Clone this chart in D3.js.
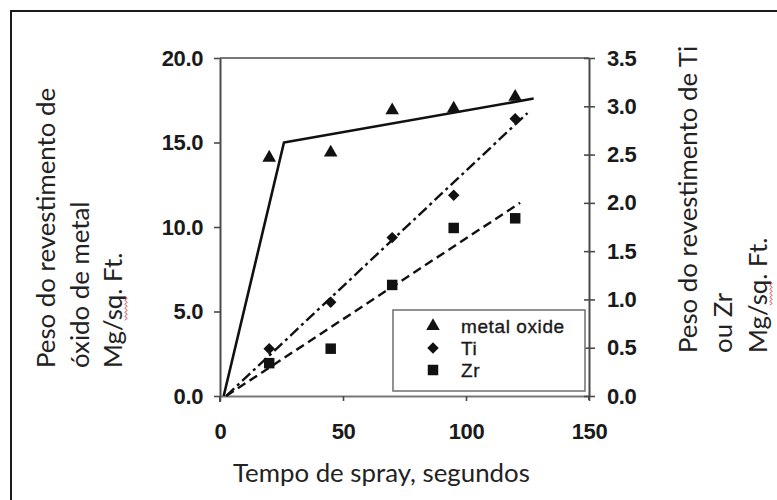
<!DOCTYPE html>
<html>
<head>
<meta charset="utf-8">
<script src="https://cdn.jsdelivr.net/npm/d3@7"></script>
<style>
  html, body { margin: 0; padding: 0; background: #fff; }
  svg { display: block; }
</style>
</head>
<body>
<svg id="chart" width="777" height="500"></svg>
<script>
// ---------------- data ----------------
const timeSeconds = [20, 45, 70, 95, 120];
const metalOxide = [14.1, 14.4, 16.9, 17.0, 17.7];   // left axis
const tiWeight = [0.49, 0.97, 1.64, 2.08, 2.87];     // right axis
const zrWeight = [0.34, 0.49, 1.15, 1.74, 1.84];     // right axis

const metalOxideFitX = [1.5, 26, 127.5];
const metalOxideFitY = [0, 15.0, 17.6];
const tiFitX = [2.5, 125];
const tiFitY = [0, 2.93];
const zrFitX = [2.5, 122];
const zrFitY = [0, 2.0];

const xTicks = [0, 50, 100, 150];
const leftTicks = [0, 5, 10, 15, 20];
const rightTicks = [0, 0.5, 1.0, 1.5, 2.0, 2.5, 3.0, 3.5];

const legendLabels = ["metal oxide", "Ti", "Zr"];
const xTitle = "Tempo de spray, segundos";
const leftTitle = ["Peso do revestimento de", "óxido de metal", ["Mg/", "sq", ". Ft."]];
const rightTitle = ["Peso do revestimento de Ti", "ou Zr", ["Mg/", "sq", ". Ft."]];

// ---------------- layout ----------------
const svg = d3.select("#chart");
const plot = { left: 220, right: 589, top: 58, bottom: 396 };

const x = d3.scaleLinear().domain([0, 150]).range([plot.left, plot.right]);
const yL = d3.scaleLinear().domain([0, 20]).range([plot.bottom, plot.top]);
const yR = d3.scaleLinear().domain([0, 3.5]).range([plot.bottom, plot.top]);

const tickFont = "'Liberation Sans', Arial, sans-serif";
const titleFont = "Lato, 'Open Sans', sans-serif";
const axisColor = "#4a4a4a";

// outer frame
svg.append("rect")
  .attr("x", 11).attr("y", 11).attr("width", 820).attr("height", 600)
  .attr("fill", "none").attr("stroke", "#1a1a1a").attr("stroke-width", 2);

// top frame line
svg.append("line")
  .attr("x1", x(0)).attr("x2", x(150)).attr("y1", yL(20)).attr("y2", yL(20))
  .attr("stroke", "#777").attr("stroke-width", 2);

// left axis
const gL = svg.append("g").attr("transform", `translate(${plot.left},0)`)
  .call(d3.axisLeft(yL).tickValues(leftTicks).tickFormat(d3.format(".1f"))
    .tickSize(6).tickSizeOuter(0).tickPadding(11));
// bottom axis
const gB = svg.append("g").attr("transform", `translate(0,${plot.bottom})`)
  .call(d3.axisBottom(x).tickValues(xTicks).tickFormat(d3.format("d"))
    .tickSize(5).tickSizeOuter(0).tickPadding(22));
// right axis
const gR = svg.append("g").attr("transform", `translate(${plot.right},0)`)
  .call(d3.axisRight(yR).tickValues(rightTicks).tickFormat(d3.format(".1f"))
    .tickSize(6).tickSizeOuter(0).tickPadding(12));
gR.selectAll(".tick line").attr("x1", -5);

[gL, gB, gR].forEach(g => {
  g.select(".domain").attr("stroke", axisColor).attr("stroke-width", 2);
  g.selectAll(".tick line").attr("stroke", axisColor).attr("stroke-width", 1.6);
  g.selectAll(".tick text")
    .attr("font-family", tickFont).attr("font-size", 22).attr("font-weight", "bold")
    .attr("letter-spacing", -0.4)
    .attr("fill", "#1a1a1a");
});
gB.select(".domain").attr("stroke", "#777");
// extend left and right axis lines slightly below the baseline
svg.append("line").attr("x1", plot.left).attr("x2", plot.left)
  .attr("y1", plot.bottom).attr("y2", plot.bottom + 6)
  .attr("stroke", axisColor).attr("stroke-width", 2);
svg.append("line").attr("x1", plot.right).attr("x2", plot.right)
  .attr("y1", plot.bottom).attr("y2", plot.bottom + 4)
  .attr("stroke", axisColor).attr("stroke-width", 2);

// ---------------- fit lines ----------------
const lineL = d3.line().x(d => x(d[0])).y(d => yL(d[1]));
const lineR = d3.line().x(d => x(d[0])).y(d => yR(d[1]));

svg.append("path")
  .attr("d", lineL(d3.zip(metalOxideFitX, metalOxideFitY)))
  .attr("fill", "none").attr("stroke", "#111").attr("stroke-width", 2.6)
  .attr("stroke-linejoin", "round");
svg.append("path")
  .attr("d", lineR(d3.zip(tiFitX, tiFitY)))
  .attr("fill", "none").attr("stroke", "#111").attr("stroke-width", 2.4)
  .attr("stroke-dasharray", "11,4,3,4");
svg.append("path")
  .attr("d", lineR(d3.zip(zrFitX, zrFitY)))
  .attr("fill", "none").attr("stroke", "#111").attr("stroke-width", 2.4)
  .attr("stroke-dasharray", "9,5");

// ---------------- markers ----------------
const triSym = d3.symbol().type(d3.symbolTriangle).size(80);
const diaSym = d3.symbol().type(d3.symbolSquare).size(66);   // drawn rotated 45°
const sqSym = d3.symbol().type(d3.symbolSquare).size(110);

svg.append("g").selectAll("path").data(d3.zip(timeSeconds, metalOxide)).join("path")
  .attr("d", triSym).attr("fill", "#111")
  .attr("transform", d => `translate(${x(d[0])},${yL(d[1])})`);
svg.append("g").selectAll("path").data(d3.zip(timeSeconds, tiWeight)).join("path")
  .attr("d", diaSym).attr("fill", "#111")
  .attr("transform", d => `translate(${x(d[0])},${yR(d[1])}) rotate(45)`);
svg.append("g").selectAll("path").data(d3.zip(timeSeconds, zrWeight)).join("path")
  .attr("d", sqSym).attr("fill", "#111")
  .attr("transform", d => `translate(${x(d[0])},${yR(d[1])})`);

// ---------------- legend ----------------
const leg = svg.append("g");
leg.append("rect")
  .attr("x", 393).attr("y", 310).attr("width", 192).attr("height", 81)
  .attr("fill", "#fff").attr("stroke", "#777").attr("stroke-width", 1.6);
const legSyms = [triSym, diaSym, sqSym];
const legRot = [0, 45, 0];
const legY = [326, 348, 370];
legendLabels.forEach((lab, i) => {
  leg.append("path").attr("d", legSyms[i]).attr("fill", "#111")
    .attr("transform", `translate(433,${legY[i]}) rotate(${legRot[i]})`);
  leg.append("text").attr("x", 461).attr("y", legY[i]).attr("dy", "0.36em")
    .attr("font-family", tickFont).attr("font-size", 19)
    .attr("letter-spacing", 0.6)
    .attr("stroke", "#1a1a1a").attr("stroke-width", 0.35)
    .attr("fill", "#1a1a1a").text(lab);
});

// ---------------- titles ----------------
// size the title font so the x title spans its width in the reference
const probe = svg.append("text").attr("font-family", titleFont).attr("font-size", 20).text(xTitle);
const probeLen = probe.node().getComputedTextLength();
probe.remove();
const titleSize = 20 * 297 / probeLen;

svg.append("text").attr("x", 233).attr("y", 482)
  .attr("font-family", titleFont).attr("font-size", titleSize).attr("fill", "#222")
  .text(xTitle);

function rotatedTitle(lines, baselines, startY) {
  lines.forEach((ln, i) => {
    const t = svg.append("text")
      .attr("transform", `translate(${baselines[i]},${startY}) rotate(-90)`)
      .attr("font-family", titleFont).attr("font-size", titleSize).attr("fill", "#222");
    if (Array.isArray(ln)) {
      t.append("tspan").text(ln[0]);
      t.append("tspan").text(ln[1]);
      t.append("tspan").text(ln[2]);
      // red wavy spell-check underline beneath "sq"
      const n0 = ln[0].length;
      const node = t.node();
      const sx = node.getStartPositionOfChar(n0).x;
      const ex = node.getEndPositionOfChar(n0 + ln[1].length - 1).x;
      const pts = [];
      for (let px = sx, k = 0; px <= ex; px += 2, k++) pts.push([px, 3 + (k % 2 ? 2 : 0)]);
      svg.append("path")
        .attr("transform", `translate(${baselines[i]},${startY}) rotate(-90)`)
        .attr("d", d3.line()(pts)).attr("fill", "none")
        .attr("stroke", "#e03030").attr("stroke-width", 1);
    } else {
      t.text(ln);
    }
  });
}
rotatedTitle(leftTitle, [55, 89, 122], 368);
rotatedTitle(rightTitle, [697, 732, 767], 353);
</script>
</body>
</html>
